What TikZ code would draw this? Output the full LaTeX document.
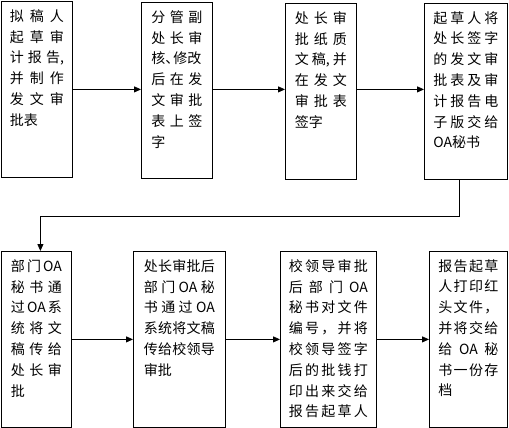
\documentclass[tikz,border=0pt]{standalone}
\usepackage{fontspec}
\newfontfamily\cjk{Noto Sans CJK SC}
\usetikzlibrary{
    calc,
    arrows.meta
}
\makeatletter
% one spread line and one left line of a box
\newcommand\jl[1]{\hbox to\hsize{\let\jl@gap\relax\@tfor\jl@ch:=#1\do{\jl@gap\jl@ch\let\jl@gap\hfil}}}
\newcommand\jlast[1]{\hbox to\hsize{#1\hfil}}
\makeatother
\tikzset{
  every path/.style={
    black,
    line width=0.8pt
  },
  stepbox/.style={
    draw,
    anchor=north west,
    inner xsep=0pt,
    inner ysep=8pt,
    minimum height=176pt,
    font=\cjk\fontsize{14}{20.8}\selectfont,
    execute at begin node={\vbox to 160pt\bgroup},
    execute at end node={\vfil\egroup}
  },
  flow/.style={
    -{Triangle[length=7pt,width=6pt]}
  }
}

\begin{document}
\begin{tikzpicture}[x=1pt,y=1pt]
    \useasboundingbox (0,0) rectangle (509,-428);
    %-------------------------
    % upper row
    %-------------------------
    \node[stepbox,minimum width=71pt,text width=54pt] (b1) at (1,-1)
      {\jl{拟稿人}\jl{起草审}\jl{计报{告,}}\jl{并制作}\jl{发文审}\jlast{批表}};
    \node[stepbox,minimum width=71pt,text width=51pt] (b2) at (141,-2)
      {\jl{分管副}\jl{处长审}\jlast{核、\kern-6pt修改}\jl{后在发}\jl{文审批}\jl{表上签}\jlast{字}};
    \node[stepbox,minimum width=71pt,text width=52pt] (b3) at (285,-3)
      {\jl{处长审}\jl{批纸质}\jl{文{稿,}并}\jl{在发文}\jl{审批表}\jlast{签字}};
    \node[stepbox,minimum width=83pt,text width=65pt] (b4) at (424,-3)
      {\jl{起草人将}\jl{处长签字}\jl{的发文审}\jl{批表及审}\jl{计报告电}\jl{子版交给}\jlast{OA秘书}};

    %-------------------------
    % lower row
    %-------------------------
    \node[stepbox,minimum width=70pt,text width=51pt] (b5) at (1,-251)
      {\jl{部门{OA}}\jl{秘书通}\jl{过{OA}系}\jl{统将文}\jl{稿传给}\jl{处长审}\jlast{批}};
    \node[stepbox,minimum width=92pt,text width=71pt] (b6) at (133,-251)
      {\jl{处长审批后}\jl{部门{OA}秘}\jl{书通过{OA}}\jl{系统将文稿}\jl{传给校领导}\jlast{审批}};
    \node[stepbox,minimum width=96pt,text width=79pt] (b7) at (280,-251)
      {\jl{校领导审批}\jl{后部门{OA}}\jl{秘书对文件}\jl{编号，并将}\jl{校领导签字}\jl{后的批钱打}\jl{印出来交给}\jl{报告起草人}};
    \node[stepbox,minimum width=78pt,text width=60pt] (b8) at (429,-251)
      {\jl{报告起草}\jl{人打印红}\jl{头文件，}\jl{并将交给}\jl{给{OA}秘}\jl{书一份存}\jlast{档}};

    \draw[flow] (b1.east) -- (b2.west |- b1.east);
    \draw[flow] (b2.east |- b1.east) -- (b3.west |- b1.east);
    \draw[flow] (b3.east |- b1.east) -- (b4.west |- b1.east);

    \coordinate (bend) at ($(b5.north)+(4,35)$);
    \draw[flow] ([xshift=-7pt]b4.south) |- (bend) -- ([xshift=4pt]b5.north);

    \draw[flow] (b5.east) -- (b6.west);
    \draw[flow] (b6.east) -- (b7.west);
    \draw[flow] (b7.east) -- (b8.west);

    \end{tikzpicture}
\end{document}
